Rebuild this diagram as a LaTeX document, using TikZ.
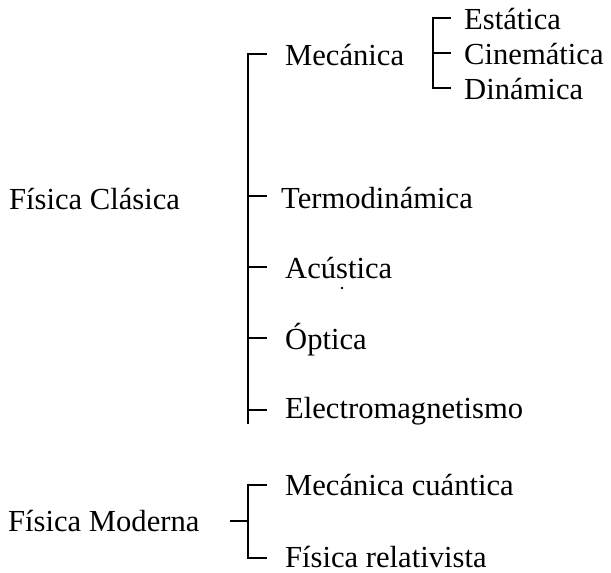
\documentclass[tikz,border=0pt]{standalone}
\usepackage{fontspec}
\setmainfont{Liberation Serif}
\usetikzlibrary{calc}
\begin{document}
\begin{tikzpicture}[x=1pt,y=-1pt,
  lbl/.style={anchor=base west,inner sep=0pt,font=\fontsize{30.6}{36}\selectfont},
  brk/.style={line width=2pt,line cap=butt}]
\useasboundingbox (0,0) rectangle (611,573);
% texts
\node[lbl] (fc) at (9,209) {Física Clásica};
\node[lbl] (mec) at (285,65) {Mecánica};
\node[lbl] (est) at (464,29) {Estática};
\node[lbl] (cin) at (464,64) {Cinemática};
\node[lbl] (din) at (464,99) {Dinámica};
\node[lbl] (ter) at (281,208) {Termodinámica};
\node[lbl] (acu) at (285,278) {Acústica};
\node[lbl] (opt) at (285,349) {Óptica};
\node[lbl] (ele) at (285,418) {Electromagnetismo};
\node[lbl] (fm) at (8,531) {Física Moderna};
\node[lbl] (mc) at (285,495) {Mecánica cuántica};
\node[lbl] (fr) at (285,567) {Física relativista};
% main bracket
\coordinate (t0) at (247.5,54);
\coordinate (t1) at (247.5,196);
\coordinate (t2) at (247.5,267);
\coordinate (t3) at (247.5,338);
\coordinate (t4) at (247.5,410);
\coordinate (tb) at (247.5,424);
\draw[brk] ($(t0)+(19.5,0)$) -- (t0) -- (tb);
\draw[brk] (t1) -- ++(19.5,0);
\draw[brk] (t2) -- ++(19.5,0);
\draw[brk] (t3) -- ++(19.5,0);
\draw[brk] (t4) -- ++(19.5,0);
% sub bracket
\coordinate (s0) at (433,18);
\coordinate (s1) at (433,53);
\coordinate (s2) at (433,88);
\draw[brk] ($(s0)+(17.5,0)$) -- (s0) -- (s2) -- ++(17.5,0);
\draw[brk] (s1) -- ++(17.5,0);
% moderna bracket
\coordinate (m0) at (248,485);
\coordinate (m1) at (248,521);
\coordinate (m2) at (248,558);
\draw[brk] ($(m0)+(19,0)$) -- (m0) -- (m2) -- ++(19,0);
\draw[brk] (m1) -- ++(-18,0);
% stray dot
\fill (342,288) circle (1.3);
\end{tikzpicture}
\end{document}
